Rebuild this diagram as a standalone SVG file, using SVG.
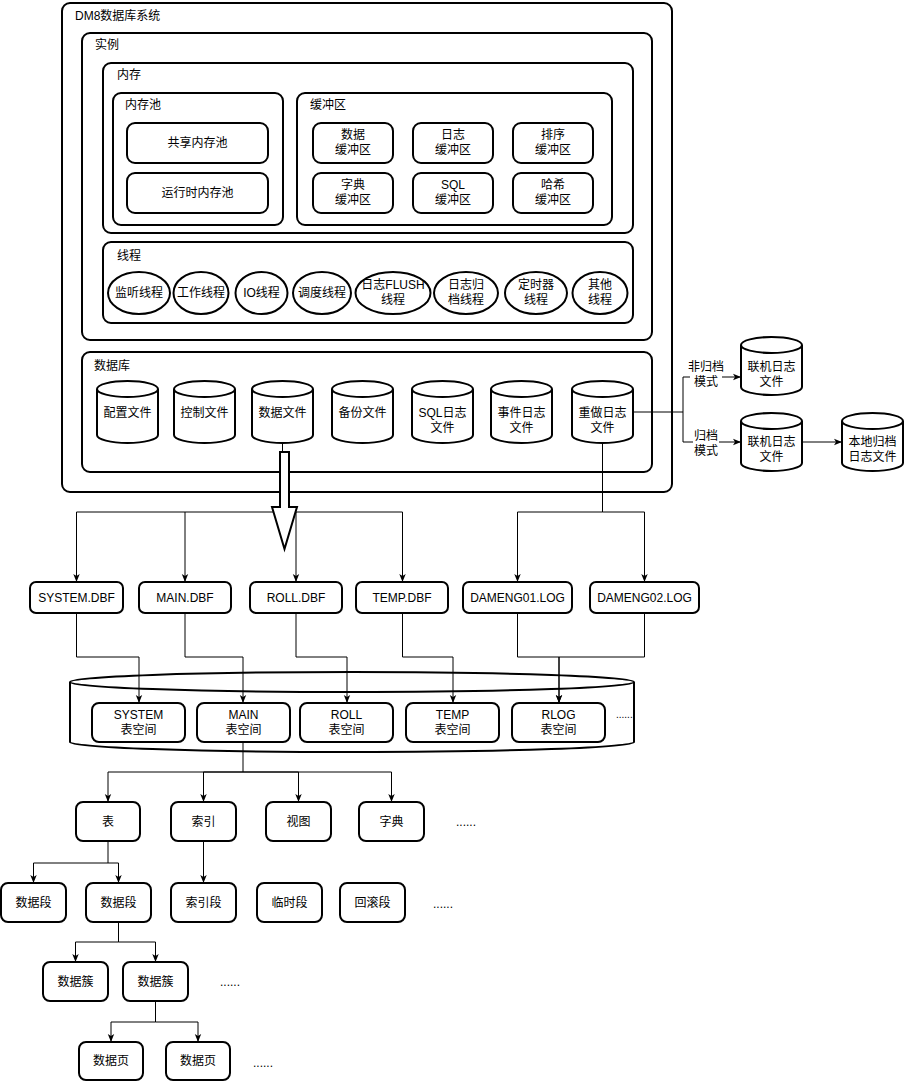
<svg xmlns="http://www.w3.org/2000/svg" width="904" height="1082" viewBox="0 0 904 1082">
<style>
.box{fill:#fff;stroke:#000;stroke-width:2}
.t{font-family:"Liberation Sans","Noto Sans CJK SC",sans-serif;font-size:12px;fill:#000}
.c{text-anchor:middle;dominant-baseline:central}
.l{dominant-baseline:central}
.ln{fill:none;stroke:#000;stroke-width:1}
.ar{marker-end:url(#arr)}
</style>
<defs>
<marker id="arr" viewBox="0 0 10 10" refX="10" refY="5" markerWidth="8" markerHeight="8" markerUnits="userSpaceOnUse" orient="auto">
<path d="M0,1 L10,5 L0,9 L2.5,5 Z" fill="#000"/>
</marker>
</defs>
<rect width="904" height="1082" fill="#fff"/>

<g id="system">
<rect class="box" x="62" y="3" width="610" height="489" rx="8"/>
<text class="t l" x="75" y="16">DM8数据库系统</text>
</g>
<g id="instance">
<rect class="box" x="82" y="33" width="570" height="307" rx="8"/>
<text class="t l" x="95" y="45">实例</text>
</g>
<g id="memory">
<rect class="box" x="103" y="63" width="530" height="170" rx="8"/>
<text class="t l" x="117" y="75">内存</text>
</g>
<g id="mempool">
<rect class="box" x="113" y="93" width="170" height="132" rx="8"/>
<text class="t l" x="125" y="105">内存池</text>
</g>
<g id="sharedpool">
<rect class="box" x="127" y="123" width="141" height="40" rx="8"/>
<text class="t c" x="197.5" y="143">共享内存池</text>
</g>
<g id="runtimepool">
<rect class="box" x="127" y="173" width="141" height="40" rx="8"/>
<text class="t c" x="197.5" y="193">运行时内存池</text>
</g>
<g id="buffer">
<rect class="box" x="297" y="93" width="315" height="132" rx="8"/>
<text class="t l" x="310" y="105">缓冲区</text>
</g>
<g id="buf-data">
<rect class="box" x="313" y="123" width="80" height="40" rx="8"/>
<text class="t c" x="353" y="135">数据</text><text class="t c" x="353" y="150">缓冲区</text>
</g>
<g id="buf-log">
<rect class="box" x="413" y="123" width="80" height="40" rx="8"/>
<text class="t c" x="453" y="135">日志</text><text class="t c" x="453" y="150">缓冲区</text>
</g>
<g id="buf-sort">
<rect class="box" x="513" y="123" width="80" height="40" rx="8"/>
<text class="t c" x="553" y="135">排序</text><text class="t c" x="553" y="150">缓冲区</text>
</g>
<g id="buf-dict">
<rect class="box" x="313" y="173" width="80" height="40" rx="8"/>
<text class="t c" x="353" y="185">字典</text><text class="t c" x="353" y="200">缓冲区</text>
</g>
<g id="buf-sql">
<rect class="box" x="413" y="173" width="80" height="40" rx="8"/>
<text class="t c" x="453" y="185">SQL</text><text class="t c" x="453" y="200">缓冲区</text>
</g>
<g id="buf-hash">
<rect class="box" x="513" y="173" width="80" height="40" rx="8"/>
<text class="t c" x="553" y="185">哈希</text><text class="t c" x="553" y="200">缓冲区</text>
</g>

<g id="threads">
<rect class="box" x="103" y="242" width="530" height="81" rx="8"/>
<text class="t l" x="117" y="256">线程</text>
</g>
<g id="th-listen"><ellipse class="box" cx="139" cy="293" rx="31" ry="21"/><text class="t c" x="139" y="293">监听线程</text></g>
<g id="th-work"><ellipse class="box" cx="201" cy="293" rx="27.5" ry="21"/><text class="t c" x="201" y="293">工作线程</text></g>
<g id="th-io"><ellipse class="box" cx="261.5" cy="293" rx="26" ry="21"/><text class="t c" x="261.5" y="293">IO线程</text></g>
<g id="th-sched"><ellipse class="box" cx="322" cy="293" rx="29" ry="21"/><text class="t c" x="322" y="293">调度线程</text></g>
<g id="th-flush"><ellipse class="box" cx="393" cy="293" rx="37.5" ry="21"/><text class="t c" x="393" y="285">日志FLUSH</text><text class="t c" x="393" y="300">线程</text></g>
<g id="th-arch"><ellipse class="box" cx="466" cy="293" rx="32" ry="21"/><text class="t c" x="466" y="285">日志归</text><text class="t c" x="466" y="300">档线程</text></g>
<g id="th-timer"><ellipse class="box" cx="536" cy="293" rx="31" ry="21"/><text class="t c" x="536" y="285">定时器</text><text class="t c" x="536" y="300">线程</text></g>
<g id="th-other"><ellipse class="box" cx="600" cy="293" rx="27.5" ry="21"/><text class="t c" x="600" y="285">其他</text><text class="t c" x="600" y="300">线程</text></g>

<g id="database">
<rect class="box" x="82" y="352" width="570" height="120" rx="8"/>
<text class="t l" x="94" y="366">数据库</text>
</g>
<g id="f-config"><path class="box" d="M97,389 A30.5,8 0 0 1 158,389 V435 A30.5,8 0 0 1 97,435 Z M97,389 A30.5,8 0 0 0 158,389"/><text class="t c" x="127.5" y="413">配置文件</text></g>
<g id="f-control"><path class="box" d="M174,389 A30.5,8 0 0 1 235,389 V435 A30.5,8 0 0 1 174,435 Z M174,389 A30.5,8 0 0 0 235,389"/><text class="t c" x="204.5" y="413">控制文件</text></g>
<g id="f-data"><path class="box" d="M252,389 A30.5,8 0 0 1 313,389 V435 A30.5,8 0 0 1 252,435 Z M252,389 A30.5,8 0 0 0 313,389"/><text class="t c" x="282.5" y="413">数据文件</text></g>
<g id="f-backup"><path class="box" d="M332,389 A30.5,8 0 0 1 393,389 V435 A30.5,8 0 0 1 332,435 Z M332,389 A30.5,8 0 0 0 393,389"/><text class="t c" x="362.5" y="413">备份文件</text></g>
<g id="f-sqllog"><path class="box" d="M412,389 A30.5,8 0 0 1 473,389 V435 A30.5,8 0 0 1 412,435 Z M412,389 A30.5,8 0 0 0 473,389"/><text class="t c" x="442.5" y="413">SQL日志</text><text class="t c" x="442.5" y="428">文件</text></g>
<g id="f-eventlog"><path class="box" d="M491,389 A30.5,8 0 0 1 552,389 V435 A30.5,8 0 0 1 491,435 Z M491,389 A30.5,8 0 0 0 552,389"/><text class="t c" x="521.5" y="413">事件日志</text><text class="t c" x="521.5" y="428">文件</text></g>
<g id="f-redo"><path class="box" d="M572,389 A30.5,8 0 0 1 633,389 V435 A30.5,8 0 0 1 572,435 Z M572,389 A30.5,8 0 0 0 633,389"/><text class="t c" x="602.5" y="413">重做日志</text><text class="t c" x="602.5" y="428">文件</text></g>

<g id="online1"><path class="box" d="M741,345 A30.5,8 0 0 1 802,345 V387 A30.5,8 0 0 1 741,387 Z M741,345 A30.5,8 0 0 0 802,345"/><text class="t c" x="771.5" y="367">联机日志</text><text class="t c" x="771.5" y="382">文件</text></g>
<g id="online2"><path class="box" d="M741,421 A30.5,8 0 0 1 802,421 V463 A30.5,8 0 0 1 741,463 Z M741,421 A30.5,8 0 0 0 802,421"/><text class="t c" x="771.5" y="442">联机日志</text><text class="t c" x="771.5" y="457">文件</text></g>
<g id="archive"><path class="box" d="M842,421 A30.5,8 0 0 1 903,421 V463 A30.5,8 0 0 1 842,463 Z M842,421 A30.5,8 0 0 0 903,421"/><text class="t c" x="872.5" y="442">本地归档</text><text class="t c" x="872.5" y="457">日志文件</text></g>

<g id="dbf-system"><rect class="box" x="30" y="582" width="93" height="31" rx="6"/><text class="t c" x="76.5" y="598">SYSTEM.DBF</text></g>
<g id="dbf-main"><rect class="box" x="139" y="582" width="92" height="31" rx="6"/><text class="t c" x="185" y="598">MAIN.DBF</text></g>
<g id="dbf-roll"><rect class="box" x="250" y="582" width="92" height="31" rx="6"/><text class="t c" x="296" y="598">ROLL.DBF</text></g>
<g id="dbf-temp"><rect class="box" x="356" y="582" width="92" height="31" rx="6"/><text class="t c" x="402" y="598">TEMP.DBF</text></g>
<g id="log-01"><rect class="box" x="463" y="582" width="109" height="31" rx="6"/><text class="t c" x="517.5" y="598">DAMENG01.LOG</text></g>
<g id="log-02"><rect class="box" x="590" y="582" width="109" height="31" rx="6"/><text class="t c" x="644.5" y="598">DAMENG02.LOG</text></g>

<g id="tablespaces">
<path class="box" d="M70,682 A282,10 0 0 1 634,682 V742 A282,10 0 0 1 70,742 Z M70,682 A282,10 0 0 0 634,682"/>
<text class="t" x="616" y="718" style="font-size:10px">......</text>
</g>

<g id="connectors">
<path class="ln" d="M282.5,443 V452"/>
<path class="ln ar" d="M282,512 H76.5 V582"/>
<path class="ln ar" d="M185,512 V582"/>
<path class="ln ar" d="M282,512 H296 V582"/>
<path class="ln ar" d="M296,512 H402.5 V582"/>
<path class="ln" d="M602.5,443 V512"/>
<path class="ln ar" d="M602.5,512 H517.5 V582"/>
<path class="ln ar" d="M602.5,512 H644.5 V582"/>
<path class="ln" d="M633,412 H683"/>
<path class="ln ar" d="M683,412 V377 H741"/>
<path class="ln ar" d="M683,412 V442 H741"/>
<path class="ln ar" d="M802,442 H842"/>
<path class="ln ar" d="M76.5,613 V657 H139 V703"/>
<path class="ln ar" d="M185,613 V657 H243 V703"/>
<path class="ln ar" d="M296,613 V657 H347 V703"/>
<path class="ln ar" d="M402.5,613 V657 H453 V703"/>
<path class="ln ar" d="M517.5,613 V657 H559 V703"/>
<path class="ln ar" d="M644.5,613 V657 H559 V703"/>
<path class="ln ar" d="M243,742 V772 H108 V802"/>
<path class="ln ar" d="M243,772 H203.5 V802"/>
<path class="ln ar" d="M243,772 H298.5 V802"/>
<path class="ln ar" d="M243,772 H391.5 V802"/>
<path class="ln ar" d="M108,841 V863 H33.5 V883"/>
<path class="ln ar" d="M108,863 H118.5 V883"/>
<path class="ln ar" d="M203.5,841 V883"/>
<path class="ln ar" d="M118.5,922 V942 H75.5 V962"/>
<path class="ln ar" d="M118.5,942 H155.5 V962"/>
<path class="ln ar" d="M155.5,1001 V1022 H111 V1042"/>
<path class="ln ar" d="M155.5,1022 H198 V1042"/>
</g>

<g id="mode-labels">
<rect x="690" y="359" width="32" height="31" fill="#fff"/>
<text class="t c" x="706" y="367">非归档</text><text class="t c" x="706" y="382">模式</text>
<rect x="693" y="428" width="26" height="30" fill="#fff"/>
<text class="t c" x="706" y="436">归档</text><text class="t c" x="706" y="451">模式</text>
</g>

<g id="big-arrow">
<polygon class="box" points="280,452 289,452 289,507 297,507 284.5,549 272,507 280,507"/>
</g>

<g id="ts-system"><rect class="box" x="92" y="703" width="93" height="39" rx="7"/><text class="t c" x="138.5" y="715">SYSTEM</text><text class="t c" x="138.5" y="730">表空间</text></g>
<g id="ts-main"><rect class="box" x="197" y="703" width="93" height="39" rx="7"/><text class="t c" x="243.5" y="715">MAIN</text><text class="t c" x="243.5" y="730">表空间</text></g>
<g id="ts-roll"><rect class="box" x="300" y="703" width="93" height="39" rx="7"/><text class="t c" x="346.5" y="715">ROLL</text><text class="t c" x="346.5" y="730">表空间</text></g>
<g id="ts-temp"><rect class="box" x="406" y="703" width="93" height="39" rx="7"/><text class="t c" x="452.5" y="715">TEMP</text><text class="t c" x="452.5" y="730">表空间</text></g>
<g id="ts-rlog"><rect class="box" x="512" y="703" width="93" height="39" rx="7"/><text class="t c" x="558.5" y="715">RLOG</text><text class="t c" x="558.5" y="730">表空间</text></g>

<g id="obj-table"><rect class="box" x="76" y="802" width="64" height="39" rx="7"/><text class="t c" x="108" y="822">表</text></g>
<g id="obj-index"><rect class="box" x="171" y="802" width="65" height="39" rx="7"/><text class="t c" x="203.5" y="822">索引</text></g>
<g id="obj-view"><rect class="box" x="266" y="802" width="65" height="39" rx="7"/><text class="t c" x="298.5" y="822">视图</text></g>
<g id="obj-dict"><rect class="box" x="359" y="802" width="65" height="39" rx="7"/><text class="t c" x="391.5" y="822">字典</text></g>
<g id="obj-more"><text class="t" x="456" y="826">......</text></g>

<g id="seg-data1"><rect class="box" x="1" y="883" width="65" height="39" rx="7"/><text class="t c" x="33.5" y="903">数据段</text></g>
<g id="seg-data2"><rect class="box" x="86" y="883" width="65" height="39" rx="7"/><text class="t c" x="118.5" y="903">数据段</text></g>
<g id="seg-index"><rect class="box" x="171" y="883" width="65" height="39" rx="7"/><text class="t c" x="203.5" y="903">索引段</text></g>
<g id="seg-temp"><rect class="box" x="257" y="883" width="65" height="39" rx="7"/><text class="t c" x="289.5" y="903">临时段</text></g>
<g id="seg-roll"><rect class="box" x="340" y="883" width="65" height="39" rx="7"/><text class="t c" x="372.5" y="903">回滚段</text></g>
<g id="seg-more"><text class="t" x="433" y="908">......</text></g>

<g id="ext-1"><rect class="box" x="43" y="962" width="65" height="39" rx="7"/><text class="t c" x="75.5" y="982">数据簇</text></g>
<g id="ext-2"><rect class="box" x="123" y="962" width="65" height="39" rx="7"/><text class="t c" x="155.5" y="982">数据簇</text></g>
<g id="ext-more"><text class="t" x="220" y="986">......</text></g>

<g id="page-1"><rect class="box" x="79" y="1042" width="64" height="38" rx="7"/><text class="t c" x="111" y="1061">数据页</text></g>
<g id="page-2"><rect class="box" x="166" y="1042" width="64" height="38" rx="7"/><text class="t c" x="198" y="1061">数据页</text></g>
<g id="page-more"><text class="t" x="253" y="1067">......</text></g>
</svg>
